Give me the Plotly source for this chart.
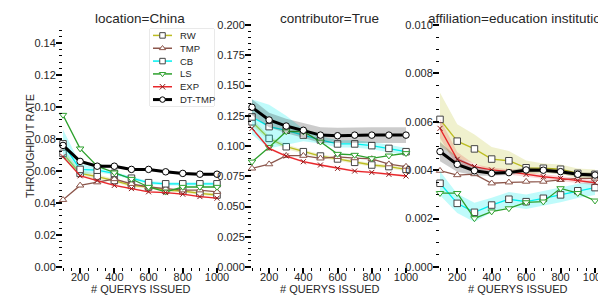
import plotly.graph_objects as go

# ---------------- data ----------------
queries = [100, 200, 300, 400, 500, 600, 700, 800, 900, 1000]
methods = ["RW", "TMP", "CB", "LS", "EXP", "DT-TMP"]
panel_titles = ["location=China", "contributor=True", "affiliation=education institution"]
x_title = "# QUERYS ISSUED"
y_title = "THROUGHPUT RATE"

# location=China
china_rw = [0.071, 0.0585, 0.0565, 0.054, 0.051, 0.050, 0.048, 0.0475, 0.046, 0.045]
china_tmp = [0.042, 0.051, 0.053, 0.055, 0.052, 0.050, 0.049, 0.048, 0.048, 0.047]
china_cb = [0.077, 0.061, 0.0605, 0.0585, 0.0555, 0.0527, 0.052, 0.052, 0.052, 0.052]
china_ls = [0.095, 0.074, 0.063, 0.059, 0.055, 0.050, 0.047, 0.050, 0.050, 0.050]
china_exp = [0.069, 0.057, 0.054, 0.051, 0.049, 0.047, 0.0465, 0.0455, 0.044, 0.043]
china_dt = [0.076, 0.066, 0.063, 0.063, 0.061, 0.061, 0.0595, 0.0585, 0.058, 0.058]
china_rw_ci = [0.003, 0.002, 0.0015, 0.001, 0.001, 0.001, 0.001, 0.001, 0.001, 0.001]
china_cb_ci = [0.009, 0.0035, 0.0015, 0.001, 0.001, 0.001, 0.001, 0.001, 0.001, 0.001]
china_exp_ci = [0.0008, 0.0006, 0.0005, 0.0005, 0.0005, 0.0005, 0.0005, 0.0005, 0.0005, 0.0005]
china_dt_ci = [0.0015, 0.001, 0.001, 0.0008, 0.0008, 0.0008, 0.0008, 0.0008, 0.0008, 0.0008]

# contributor=True
contrib_rw = [0.120, 0.1063, 0.0994, 0.0953, 0.0917, 0.0893, 0.0865, 0.0843, 0.083, 0.0807]
contrib_tmp = [0.0815, 0.085, 0.092, 0.092, 0.0898, 0.091, 0.090, 0.0893, 0.085, 0.083]
contrib_cb = [0.124, 0.116, 0.113, 0.109, 0.105, 0.1017, 0.1017, 0.1003, 0.098, 0.0953]
contrib_ls = [0.087, 0.099, 0.112, 0.112, 0.1035, 0.0934, 0.0926, 0.0898, 0.092, 0.094]
contrib_exp = [0.1146, 0.098, 0.0917, 0.087, 0.0843, 0.0815, 0.0793, 0.0782, 0.0766, 0.0752]
contrib_dt = [0.132, 0.1215, 0.1165, 0.113, 0.109, 0.1085, 0.109, 0.109, 0.109, 0.109]
contrib_rw_ci = [0.003, 0.002, 0.002, 0.0015, 0.0015, 0.0015, 0.0015, 0.0015, 0.0015, 0.0015]
contrib_cb_ci = [0.0145, 0.018, 0.012, 0.005, 0.003, 0.003, 0.003, 0.003, 0.003, 0.003]
contrib_exp_ci = [0.001, 0.001, 0.0008, 0.0008, 0.0008, 0.0008, 0.0008, 0.0008, 0.0008, 0.0008]
contrib_dt_ci = [0.0066, 0.006, 0.006, 0.0062, 0.0065, 0.0065, 0.0065, 0.0065, 0.0065, 0.0065]

# affiliation=education institution
affil_rw = [0.0061, 0.0052, 0.00488, 0.00446, 0.00439, 0.0041, 0.00408, 0.00404, 0.00387, 0.00383]
affil_tmp = [0.00398, 0.0038, 0.00384, 0.00346, 0.0035, 0.00353, 0.00353, 0.0036, 0.00366, 0.00366]
affil_cb = [0.00346, 0.00263, 0.00226, 0.00256, 0.0028, 0.0027, 0.00284, 0.00298, 0.00315, 0.00328]
affil_ls = [0.00305, 0.00305, 0.00201, 0.00229, 0.00242, 0.00267, 0.0027, 0.00325, 0.00305, 0.00274]
affil_exp = [0.00573, 0.00445, 0.00415, 0.00401, 0.00394, 0.00383, 0.00373, 0.00366, 0.00357, 0.00348]
affil_dt = [0.00477, 0.00424, 0.00398, 0.00387, 0.0039, 0.00401, 0.004, 0.00394, 0.00383, 0.0038]
affil_rw_ci = [0.0011, 0.0007, 0.0006, 0.0005, 0.0004, 0.0003, 0.0002, 0.0002, 0.0002, 0.0002]
affil_cb_ci = [0.0005, 0.0004, 0.0004, 0.0003, 0.0003, 0.0003, 0.0003, 0.0003, 0.0003, 0.0003]
affil_exp_ci = [0.0004, 0.0003, 0.0001, 0.0001, 0.0001, 0.0001, 0.0001, 0.0001, 0.0001, 0.0001]
affil_dt_ci = [0.0004, 0.0003, 0.0002, 0.0001, 0.0001, 0.0001, 0.0001, 0.0001, 0.0001, 0.0001]

# ---------------- styling ----------------
W, H = 598, 298
FONT = "Liberation Sans, Arial, sans-serif"
TXT = "#262626"

style = {
    "RW": dict(color="#bcbd22", symbol="square", edge="#444444", width=1.3, size=6.5),
    "TMP": dict(color="#8c564b", symbol="triangle-up", edge="#8c564b", width=1.3, size=6.5),
    "CB": dict(color="#00f0f0", symbol="square", edge="#444444", width=1.3, size=6.5),
    "LS": dict(color="#2ca02c", symbol="triangle-down", edge="#2ca02c", width=1.3, size=6.5),
    "EXP": dict(color="#e8262a", symbol="x-thin", edge="#8b1a1a", width=1.3, size=5),
    "DT-TMP": dict(color="#000000", symbol="circle", edge="#000000", width=3, size=6.5),
}
band_color = {
    "RW": "rgba(188,189,34,0.22)",
    "CB": "rgba(0,240,240,0.25)",
    "EXP": "rgba(232,38,42,0.18)",
    "DT-TMP": "rgba(0,0,0,0.2)",
}

panels = [
    dict(series={"RW": china_rw, "TMP": china_tmp, "CB": china_cb, "LS": china_ls,
                 "EXP": china_exp, "DT-TMP": china_dt},
         ci={"RW": china_rw_ci, "CB": china_cb_ci, "EXP": china_exp_ci, "DT-TMP": china_dt_ci},
         yrange=[0, 0.15125], dtick=0.02, minor=0.004, fmt=".2f"),
    dict(series={"RW": contrib_rw, "TMP": contrib_tmp, "CB": contrib_cb, "LS": contrib_ls,
                 "EXP": contrib_exp, "DT-TMP": contrib_dt},
         ci={"RW": contrib_rw_ci, "CB": contrib_cb_ci, "EXP": contrib_exp_ci, "DT-TMP": contrib_dt_ci},
         yrange=[0, 0.2], dtick=0.025, minor=0.005, fmt=".3f"),
    dict(series={"RW": affil_rw, "TMP": affil_tmp, "CB": affil_cb, "LS": affil_ls,
                 "EXP": affil_exp, "DT-TMP": affil_dt},
         ci={"RW": affil_rw_ci, "CB": affil_cb_ci, "EXP": affil_exp_ci, "DT-TMP": affil_dt_ci},
         yrange=[0, 0.01], dtick=0.002, minor=0.0005, fmt=".3f"),
]

# pixel layout (figure has zero margins, so paper == pixels)
px_x = [(63, 217), (252, 406), (440, 595)]
px_top, px_bot = 25, 267
domains = [[a / W, b / W] for a, b in px_x]
ydom = [(H - px_bot) / H, (H - px_top) / H]

fig = go.Figure()

for i, p in enumerate(panels):
    xa = "x" if i == 0 else f"x{i+1}"
    ya = "y" if i == 0 else f"y{i+1}"
    for m in methods:
        vals = p["series"][m]
        st = style[m]
        if m in p["ci"]:
            ci = p["ci"][m]
            upper = [v + c for v, c in zip(vals, ci)]
            lower = [v - c for v, c in zip(vals, ci)]
            fig.add_trace(go.Scatter(
                x=queries + queries[::-1], y=upper + lower[::-1],
                fill="toself", fillcolor=band_color[m], line=dict(width=0),
                mode="lines", hoverinfo="skip", showlegend=False,
                xaxis=xa, yaxis=ya))
        fig.add_trace(go.Scatter(
            x=queries, y=vals, name=m, mode="lines+markers",
            line=dict(color=st["color"], width=st["width"]),
            marker=dict(symbol=st["symbol"], size=st["size"], color="white",
                        line=dict(color=st["edge"], width=1)),
            cliponaxis=False, showlegend=False,
            xaxis=xa, yaxis=ya))

# ---- compact legend drawn in its own small axis (units = pixels inside the box) ----
leg_box = (150, 214, 29, 106)  # left, right, top, bottom in pixels
for k, m in enumerate(methods):
    st = style[m]
    fig.add_trace(go.Scatter(
        x=[3, 22], y=[k, k], mode="lines",
        line=dict(color=st["color"], width=st["width"] if m == "DT-TMP" else 1.5),
        hoverinfo="skip", showlegend=False, xaxis="x4", yaxis="y4"))
    fig.add_trace(go.Scatter(
        x=[12.5], y=[k], mode="markers",
        marker=dict(symbol=st["symbol"], size=5.5, color="white",
                    line=dict(color=st["edge"], width=1)),
        hoverinfo="skip", showlegend=False, xaxis="x4", yaxis="y4"))

tickfont = dict(family=FONT, size=11, color=TXT)
layout = dict(
    width=W, height=H,
    paper_bgcolor="white", plot_bgcolor="white",
    margin=dict(l=0, r=0, t=0, b=0, autoexpand=False),
    font=dict(family=FONT, color=TXT),
    showlegend=False,
)

for i, p in enumerate(panels):
    xk = "xaxis" if i == 0 else f"xaxis{i+1}"
    yk = "yaxis" if i == 0 else f"yaxis{i+1}"
    layout[xk] = dict(
        domain=domains[i], range=[100, 1000], anchor="y" if i == 0 else f"y{i+1}",
        showgrid=False, zeroline=False, showline=False,
        tickmode="array", tickvals=[200, 400, 600, 800, 1000],
        ticks="outside", ticklen=5, tickwidth=2, tickcolor="black",
        tickfont=tickfont, ticklabelstandoff=-5, ticklabeloverflow="allow",
        minor=dict(ticks="outside", dtick=50, tick0=0, ticklen=3, tickwidth=1.3,
                   tickcolor="black", showgrid=False),
        automargin=False,
    )
    layout[yk] = dict(
        domain=ydom, range=p["yrange"], anchor="x" if i == 0 else f"x{i+1}",
        showgrid=False, zeroline=False, showline=False,
        tick0=0, dtick=p["dtick"], tickformat=p["fmt"],
        ticks="outside", ticklen=6, tickwidth=2, tickcolor="black",
        tickfont=tickfont, ticklabelstandoff=-2,
        minor=dict(ticks="outside", dtick=p["minor"], tick0=0, ticklen=3, tickwidth=1.3,
                   tickcolor="black", showgrid=False),
        automargin=False,
    )

layout["xaxis4"] = dict(domain=[leg_box[0] / W, leg_box[1] / W], range=[0, leg_box[1] - leg_box[0]],
                        anchor="y4", visible=False, fixedrange=True)
layout["yaxis4"] = dict(domain=[(H - leg_box[3]) / H, (H - leg_box[2]) / H],
                        range=[len(methods) - 0.5, -0.5], anchor="x4", visible=False, fixedrange=True)

annotations = []
for i, t in enumerate(panel_titles):
    cx = (domains[i][0] + domains[i][1]) / 2
    annotations.append(dict(text=t, x=cx, y=(H - 18) / H, xref="paper", yref="paper",
                            xanchor="center", yanchor="middle", showarrow=False,
                            font=dict(family=FONT, size=13.5, color=TXT)))
    annotations.append(dict(text=x_title, x=cx, y=(H - 289) / H, xref="paper", yref="paper",
                            xanchor="center", yanchor="middle", showarrow=False,
                            font=dict(family=FONT, size=11, color=TXT)))
annotations.append(dict(text=y_title, x=30 / W, y=(H - (px_top + px_bot) / 2) / H,
                        xref="paper", yref="paper", xanchor="center", yanchor="middle",
                        textangle=-90, showarrow=False,
                        font=dict(family=FONT, size=10.5, color=TXT)))
for k, m in enumerate(methods):
    annotations.append(dict(text=m, x=28, y=k, xref="x4", yref="y4",
                            xanchor="left", yanchor="middle", showarrow=False,
                            font=dict(family=FONT, size=9.5, color=TXT)))
layout["annotations"] = annotations
layout["shapes"] = [dict(type="rect", xref="x4 domain", yref="y4 domain",
                         x0=0, x1=1, y0=0, y1=1, layer="below",
                         fillcolor="white", line=dict(color="#d3d3d3", width=1))]

fig.update_layout(**layout)
fig.write_html("out.html", config={"displayModeBar": False},
               post_script="document.body.style.margin='0';")
